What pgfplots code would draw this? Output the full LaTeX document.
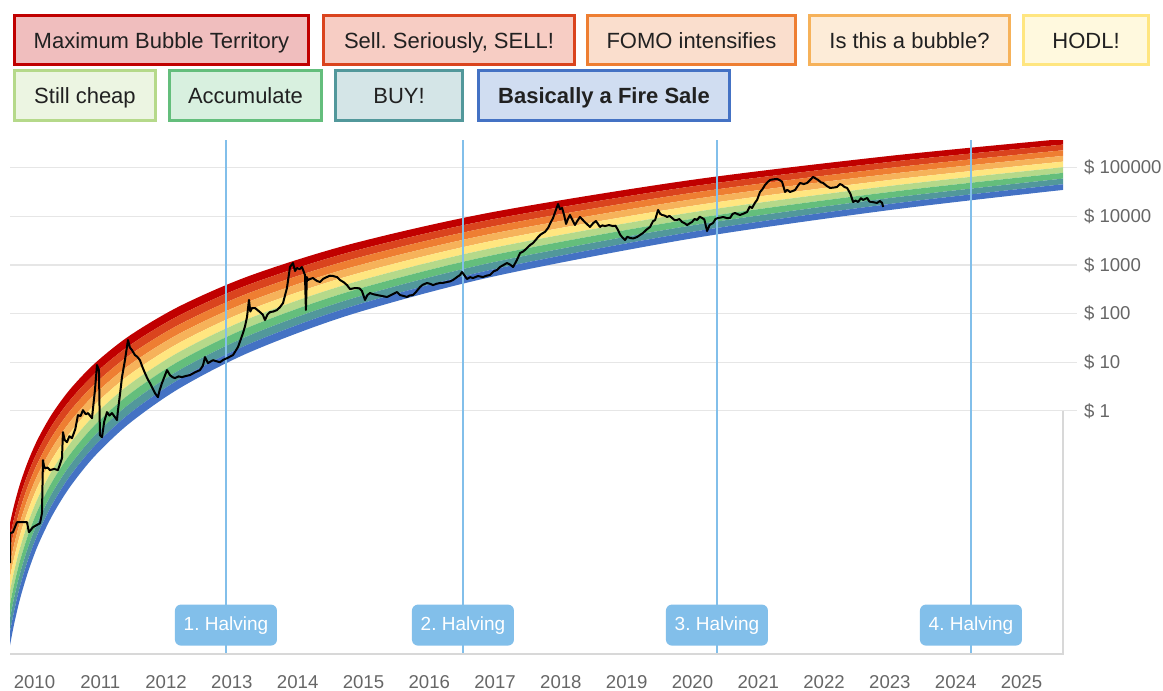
\documentclass[border=0pt]{standalone}
\usepackage{pgfplots}
\pgfplotsset{compat=1.18}
\usepackage{pgfplotstable}
\usepgfplotslibrary{fillbetween}
\usepackage{fontspec}
\setmainfont{Liberation Sans}

\definecolor{c1}{RGB}{192,0,0}
\definecolor{c2}{RGB}{218,68,30}
\definecolor{c3}{RGB}{238,126,50}
\definecolor{c4}{RGB}{246,178,90}
\definecolor{c5}{RGB}{255,230,128}
\definecolor{c6}{RGB}{181,217,138}
\definecolor{c7}{RGB}{100,190,124}
\definecolor{c8}{RGB}{82,152,155}
\definecolor{c9}{RGB}{68,114,196}
\definecolor{f1}{RGB}{240,190,190}
\definecolor{f2}{RGB}{247,205,196}
\definecolor{f3}{RGB}{250,222,205}
\definecolor{f4}{RGB}{253,236,216}
\definecolor{f5}{RGB}{255,249,222}
\definecolor{f6}{RGB}{236,245,226}
\definecolor{f7}{RGB}{216,240,223}
\definecolor{f8}{RGB}{212,229,231}
\definecolor{f9}{RGB}{208,221,241}
\definecolor{halv}{RGB}{130,191,234}
\definecolor{gridc}{RGB}{230,230,230}
\definecolor{axc}{RGB}{216,216,216}
\definecolor{lab}{RGB}{102,102,102}

% band boundaries (price in USD), top (b0) to bottom (b9)
\pgfplotstableread{
x        b0      b1      b2      b3      b4      b5      b6      b7      b8      b9
2009.628 4.91e-3 2.58e-3 1.36e-3 7.13e-4 3.74e-4 1.97e-4 1.04e-4 5.43e-5 2.86e-5 1.50e-5
2009.689 1.13e-2 6.04e-3 3.23e-3 1.73e-3 9.23e-4 4.93e-4 2.64e-4 1.41e-4 7.53e-5 4.03e-5
2009.780 3.13e-2 1.71e-2 9.31e-3 5.08e-3 2.77e-3 1.51e-3 8.28e-4 4.52e-4 2.47e-4 1.35e-4
2009.902 9.20e-2 5.14e-2 2.87e-2 1.60e-2 8.93e-3 4.99e-3 2.79e-3 1.56e-3 8.67e-4 4.84e-4
2010.053 0.267   0.152   8.71e-2 4.97e-2 2.84e-2 1.62e-2 9.23e-3 5.27e-3 3.01e-3 1.72e-3
2010.266 0.861   0.504   0.294   0.172   0.101   5.87e-2 3.44e-2 2.01e-2 1.17e-2 6.87e-3
2010.540 2.761   1.652   0.989   0.593   0.355   0.212   0.127   7.60e-2 4.56e-2 2.73e-2
2010.920 9.550   5.861   3.606   2.213   1.361   0.836   0.513   0.316   0.194   0.119
2011.452 35.56   22.44   14.16   8.93    5.636   3.565   2.249   1.419   0.895   0.565
2012.212 143.2   93.1    60.5    39.26   25.53   16.56   10.76   7.00    4.55    2.951
2013.275 601.2   401.8   269.2   179.9   120.5   80.5    53.8    36.06   24.10   16.14
2014.795 2655    1832    1265    873     602.6   415.9   286.4   197.7   136.5   94.2
2016.923 11910   8472    6026    4295    3055    2173    1545    1099    783.4   557.2
2019.962 55340   40640   29850   21930   16110   11860   8710    6397    4699    3451
2023.002 174600  131200  98600   74300   55850   42070   31620   23770   17910   13460
2025.631 389000  297800  227500  174200  133000  101900  77980   59570   45600   34830
}\bands

% bitcoin price (USD)
\pgfplotstableread{
x p
2009.628 7.35e-4
2009.629 3.05e-3
2009.673 3.19e-3
2009.734 5.13e-3
2009.886 5.13e-3
2009.916 3.19e-3
2009.977 4.05e-3
2010.084 4.89e-3
2010.114 7.85e-3
2010.129 9.68e-2
2010.145 7.30e-2
2010.160 6.62e-2
2010.200 6.80e-2
2010.236 6.03e-2
2010.300 6.40e-2
2010.357 6.03e-2
2010.418 0.106
2010.433 0.365
2010.460 0.250
2010.494 0.227
2010.530 0.300
2010.570 0.274
2010.620 0.420
2010.661 0.815
2010.700 0.780
2010.737 1.03
2010.780 0.850
2010.813 0.897
2010.874 0.708
2010.919 2.67
2010.950 8.71
2010.980 6.88
2010.995 0.316
2011.026 0.288
2011.060 0.600
2011.102 0.940
2011.140 0.800
2011.178 0.897
2011.223 0.742
2011.254 0.644
2011.269 1.03
2011.300 2.20
2011.330 4.93
2011.375 11.0
2011.421 28.5
2011.450 20.0
2011.482 17.7
2011.527 14.0
2011.560 13.0
2011.603 11.0
2011.640 8.00
2011.679 5.97
2011.720 4.50
2011.755 3.72
2011.790 3.00
2011.831 2.31
2011.877 1.91
2011.900 2.60
2011.938 3.72
2012.014 6.88
2012.059 5.43
2012.100 4.90
2012.135 4.71
2012.190 5.10
2012.242 4.93
2012.300 5.20
2012.363 5.43
2012.440 6.20
2012.515 6.88
2012.560 8.50
2012.591 12.7
2012.637 9.58
2012.713 11.0
2012.760 10.5
2012.819 10.0
2012.870 11.2
2012.926 12.1
2013.017 14.0
2013.093 20.5
2013.169 39.7
2013.200 55.0
2013.230 84.8
2013.260 190
2013.280 110
2013.306 130
2013.351 130
2013.390 118
2013.427 107
2013.470 95
2013.503 73.5
2013.540 95
2013.579 107
2013.630 110
2013.685 118
2013.730 135
2013.777 164
2013.837 335
2013.883 906
2013.929 1094
2013.960 750
2013.990 863
2014.030 820
2014.065 906
2014.111 620
2014.125 118
2014.140 560
2014.156 489
2014.200 520
2014.232 537
2014.290 470
2014.339 445
2014.390 520
2014.445 564
2014.490 600
2014.536 592
2014.600 560
2014.643 489
2014.700 440
2014.749 385
2014.795 319
2014.871 335
2014.940 330
2014.977 290
2015.023 190
2015.060 240
2015.099 264
2015.150 250
2015.205 240
2015.280 230
2015.357 219
2015.420 240
2015.470 260
2015.509 277
2015.555 240
2015.610 230
2015.661 219
2015.700 235
2015.752 240
2015.800 280
2015.859 351
2015.900 390
2015.965 425
2016.010 410
2016.056 385
2016.110 410
2016.162 425
2016.220 430
2016.269 445
2016.320 460
2016.360 489
2016.420 560
2016.467 620
2016.497 714
2016.520 650
2016.573 513
2016.620 560
2016.664 537
2016.740 590
2016.816 564
2016.870 600
2016.922 620
2016.980 740
2017.029 785
2017.074 906
2017.130 1000
2017.181 1094
2017.230 1010
2017.274 906
2017.330 1250
2017.380 1758
2017.430 1900
2017.486 2228
2017.530 2550
2017.578 2825
2017.620 3300
2017.654 3750
2017.690 4200
2017.729 4530
2017.760 4800
2017.805 5741
2017.840 7200
2017.881 9230
2017.920 13000
2017.957 17900
2017.985 14000
2018.018 14830
2018.050 10500
2018.079 6950
2018.110 9000
2018.138 10640
2018.180 8200
2018.214 6620
2018.250 8000
2018.290 9680
2018.360 7700
2018.442 6026
2018.490 7200
2018.533 8000
2018.594 6026
2018.630 6500
2018.670 6300
2018.730 6600
2018.792 6300
2018.830 6400
2018.868 5224
2018.900 4200
2018.929 3750
2018.975 3250
2019.010 3800
2019.052 3573
2019.100 3500
2019.158 3750
2019.200 4100
2019.249 4530
2019.300 5300
2019.356 6026
2019.400 7900
2019.432 8395
2019.477 13500
2019.510 11200
2019.538 10640
2019.580 10300
2019.614 9680
2019.650 10200
2019.690 9230
2019.730 8300
2019.766 8395
2019.800 8800
2019.842 7638
2019.880 7200
2019.918 6620
2019.960 7200
2019.994 7638
2020.030 8800
2020.070 8395
2020.110 9800
2020.146 9230
2020.180 8600
2020.222 4977
2020.260 6600
2020.313 7278
2020.350 8800
2020.389 9230
2020.430 9400
2020.465 9680
2020.520 9200
2020.571 9230
2020.610 11200
2020.647 11690
2020.690 11000
2020.723 10640
2020.780 11400
2020.830 12250
2020.870 15800
2020.906 14830
2020.950 19000
2020.982 21680
2021.027 31620
2021.060 35500
2021.103 44060
2021.140 50000
2021.179 55850
2021.230 57500
2021.286 58610
2021.330 55000
2021.362 50830
2021.385 40000
2021.407 31620
2021.440 35000
2021.483 31620
2021.520 33000
2021.559 34750
2021.600 42000
2021.635 48420
2021.690 46000
2021.742 48420
2021.790 56000
2021.833 64420
2021.870 60000
2021.910 55850
2021.950 50000
2021.986 48420
2022.040 42000
2022.092 38190
2022.150 39000
2022.198 40090
2022.240 46000
2022.274 44060
2022.310 40000
2022.350 38190
2022.400 29000
2022.441 19680
2022.480 21000
2022.517 19680
2022.560 23500
2022.593 21680
2022.654 23820
2022.690 20000
2022.730 19680
2022.770 19200
2022.806 18790
2022.850 20600
2022.882 18790
2022.897 15520
}\price

\begin{document}
\frenchspacing
\begin{tikzpicture}
\begin{axis}[
  at={(5pt,-327pt)}, anchor=south west,
  scale only axis, width=526.5pt, height=257pt,
  set layers,
  xmin=2009.628, xmax=2025.631,
  ymode=log, ymin=1e-5, ymax=3.7e5,
  axis x line*=bottom, axis y line*=right,
  x axis line style={draw=none},
  y axis line style={draw=none},
  xtick={2010,2011,...,2025},
  xticklabels={2010,2011,2012,2013,2014,2015,2016,2017,2018,2019,2020,2021,2022,2023,2024,2025},
  xtick style={draw=none},
  ytick={1,10,100,1000,10000,100000},
  yticklabels={\$ 1,\$ 10,\$ 100,\$ 1000,\$ 10000,\$ 100000},
  yminorticks=false,
  ytick style={draw=gridc, line width=0.6pt},
  tick align=outside, major tick length=7pt,
  ymajorgrids, grid style={draw=gridc, line width=0.6pt},
  xticklabel style={font=\fontsize{9.3}{11}\selectfont, text=lab},
  yticklabel style={font=\fontsize{9.3}{11}\selectfont, text=lab, anchor=west},
]
\addplot[draw=none, smooth, name path=b0] table[x=x,y=b0]{\bands};
\addplot[draw=none, smooth, name path=b1] table[x=x,y=b1]{\bands};
\addplot[draw=none, smooth, name path=b2] table[x=x,y=b2]{\bands};
\addplot[draw=none, smooth, name path=b3] table[x=x,y=b3]{\bands};
\addplot[draw=none, smooth, name path=b4] table[x=x,y=b4]{\bands};
\addplot[draw=none, smooth, name path=b5] table[x=x,y=b5]{\bands};
\addplot[draw=none, smooth, name path=b6] table[x=x,y=b6]{\bands};
\addplot[draw=none, smooth, name path=b7] table[x=x,y=b7]{\bands};
\addplot[draw=none, smooth, name path=b8] table[x=x,y=b8]{\bands};
\addplot[draw=none, smooth, name path=b9] table[x=x,y=b9]{\bands};
\addplot[fill=c1, draw=none] fill between[of=b0 and b1];
\addplot[fill=c2, draw=none] fill between[of=b1 and b2];
\addplot[fill=c3, draw=none] fill between[of=b2 and b3];
\addplot[fill=c4, draw=none] fill between[of=b3 and b4];
\addplot[fill=c5, draw=none] fill between[of=b4 and b5];
\addplot[fill=c6, draw=none] fill between[of=b5 and b6];
\addplot[fill=c7, draw=none] fill between[of=b6 and b7];
\addplot[fill=c8, draw=none] fill between[of=b7 and b8];
\addplot[fill=c9, draw=none] fill between[of=b8 and b9];
% halvings
\addplot[halv, line width=1.3pt] coordinates {(2012.910,1e-5) (2012.910,3.7e5)};
\addplot[halv, line width=1.3pt] coordinates {(2016.512,1e-5) (2016.512,3.7e5)};
\addplot[halv, line width=1.3pt] coordinates {(2020.372,1e-5) (2020.372,3.7e5)};
\addplot[halv, line width=1.3pt] coordinates {(2024.232,1e-5) (2024.232,3.7e5)};
% price
\addplot[black, line width=1pt, line join=round] table[x=x,y=p]{\price};
\tikzset{hl/.style={fill=halv, text=white, rounded corners=3pt, minimum width=51pt, minimum height=20.5pt, inner sep=0pt, font=\fontsize{9.5}{11}\selectfont}}
\node[hl] at (axis cs:2012.910,3.93e-5) {1. Halving};
\node[hl] at (axis cs:2016.512,3.93e-5) {2. Halving};
\node[hl] at (axis cs:2020.372,3.93e-5) {3. Halving};
\node[hl] at (axis cs:2024.232,3.93e-5) {4. Halving};
\end{axis}
\begin{scope}[x=0.5pt, y=-0.5pt]
\draw[axc, line width=0.6pt] (1063,410.7) -- (1063,654) -- (10,654);
\tikzset{lb/.style={line width=1.5pt}, lt/.style={font=\fontsize{11}{13}\selectfont, text=black!87, anchor=base}}
\draw[lb, draw=c1, fill=f1] (14.5,15.5) rectangle (308.5,64.5);
\node[lt] at (161.5,48) {Maximum Bubble Territory};
\draw[lb, draw=c2, fill=f2] (323.5,15.5) rectangle (574.5,64.5);
\node[lt] at (449,48) {Sell. Seriously, SELL!};
\draw[lb, draw=c3, fill=f3] (587.5,15.5) rectangle (795.5,64.5);
\node[lt] at (691.5,48) {FOMO intensifies};
\draw[lb, draw=c4, fill=f4] (809.5,15.5) rectangle (1009.5,64.5);
\node[lt] at (909.5,48) {Is this a bubble?};
\draw[lb, draw=c5, fill=f5] (1023.5,15.5) rectangle (1148.5,64.5);
\node[lt] at (1086,48) {HODL!};
\draw[lb, draw=c6, fill=f6] (14.5,70.5) rectangle (155.5,120.5);
\node[lt] at (85,103) {Still cheap};
\draw[lb, draw=c7, fill=f7] (169.5,70.5) rectangle (321.5,120.5);
\node[lt] at (245.5,103) {Accumulate};
\draw[lb, draw=c8, fill=f8] (335.5,70.5) rectangle (462.5,120.5);
\node[lt] at (399,103) {BUY!};
\draw[lb, draw=c9, fill=f9] (478.5,70.5) rectangle (729.5,120.5);
\node[lt, font=\fontsize{11}{13}\selectfont\bfseries] at (604,103) {Basically a Fire Sale};
\end{scope}
\pgfresetboundingbox
\path[use as bounding box] (0,0) rectangle (581.5pt,-345.5pt);
\end{tikzpicture}
\end{document}
